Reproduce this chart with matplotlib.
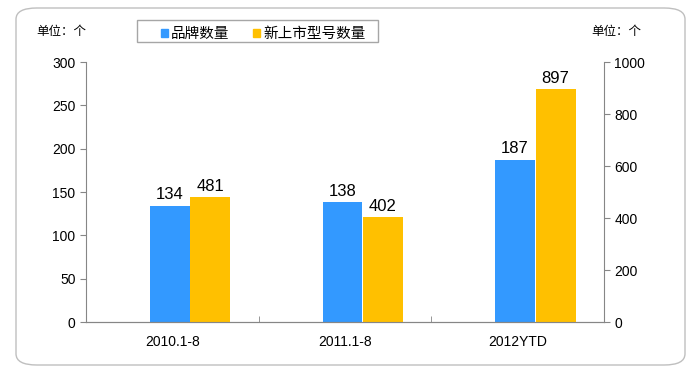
import numpy as np
import matplotlib
matplotlib.use("Agg")
import matplotlib.pyplot as plt
from matplotlib.patches import FancyBboxPatch, Patch, Rectangle

plt.rcParams['font.family'] = ['Liberation Sans', 'Noto Sans CJK SC', 'DejaVu Sans']

# data
categories = ['2010.1-8', '2011.1-8', '2012YTD']
brands = [134, 138, 187]
new_models = [481, 402, 897]
series_names = ['品牌数量', '新上市型号数量']
unit_label = '单位：个'

blue = '#3399FF'
yellow = '#FFC000'
axis_grey = '#868686'

fig = plt.figure(figsize=(6.94, 3.73), dpi=100)

# rounded border
border = FancyBboxPatch((16 / 694, 8 / 373), 669 / 694, 357 / 373,
                        boxstyle="round,pad=0,rounding_size=0.03",
                        transform=fig.transFigure, fill=False,
                        edgecolor='#BFBFBF', linewidth=1.0)
fig.patches.append(border)

ax = fig.add_axes([86 / 694, 51 / 373, 518 / 694, 260 / 373])
ax2 = ax.twinx()

x = np.arange(len(categories))
w = 0.23
b1 = ax.bar(x - 0.13, brands, width=w, align='edge', color=blue)
b2 = ax2.bar(x + 0.105, new_models, width=w, align='edge', color=yellow)

ax.set_xlim(-0.5, len(categories) - 0.5)
ax.set_ylim(0, 300)
ax2.set_ylim(0, 1000)
ax.set_yticks(np.arange(0, 301, 50))
ax2.set_yticks(np.arange(0, 1001, 200))

for a in (ax, ax2):
    a.spines['top'].set_visible(False)
    for s in ('left', 'right', 'bottom'):
        a.spines[s].set_color(axis_grey)
    a.tick_params(axis='y', colors=axis_grey, labelcolor='black', labelsize=10, length=4)
ax.spines['right'].set_visible(False)
ax2.spines['left'].set_visible(False)

ax.set_xticks(x)
ax.set_xticklabels(categories, fontsize=10)
ax.tick_params(axis='x', length=0, pad=9)
ax.set_xticks([0.5, 1.5], minor=True)
ax.tick_params(axis='x', which='minor', direction='in', length=4, color=axis_grey)

for r, v in zip(b1, brands):
    ax.text(r.get_x() + r.get_width() / 2, v + 4, str(v), ha='center', va='bottom', fontsize=12)
for r, v in zip(b2, new_models):
    ax2.text(r.get_x() + r.get_width() / 2, v + 12, str(v), ha='center', va='bottom', fontsize=12)

fig.text(36 / 694, 1 - 32 / 373, unit_label, ha='left', va='center', fontsize=9)
fig.text(591 / 694, 1 - 32 / 373, unit_label, ha='left', va='center', fontsize=9)

# legend frame drawn separately (wider than the entries)
fig.patches.append(Rectangle((137 / 694, 1 - 42 / 373), 241 / 694, 22 / 373,
                             transform=fig.transFigure, fill=False,
                             edgecolor='#A6A6A6', linewidth=1.0))
handles = [Patch(color=blue), Patch(color=yellow)]
leg = fig.legend(handles, series_names, loc='center left',
                 bbox_to_anchor=(161 / 694, 1 - 34 / 373),
                 ncol=2, frameon=False, fontsize=10.5,
                 handlelength=0.5, handleheight=0.5, handletextpad=0.2, columnspacing=1.6,
                 borderpad=0, borderaxespad=0)

fig.savefig('out.png', dpi=100)
